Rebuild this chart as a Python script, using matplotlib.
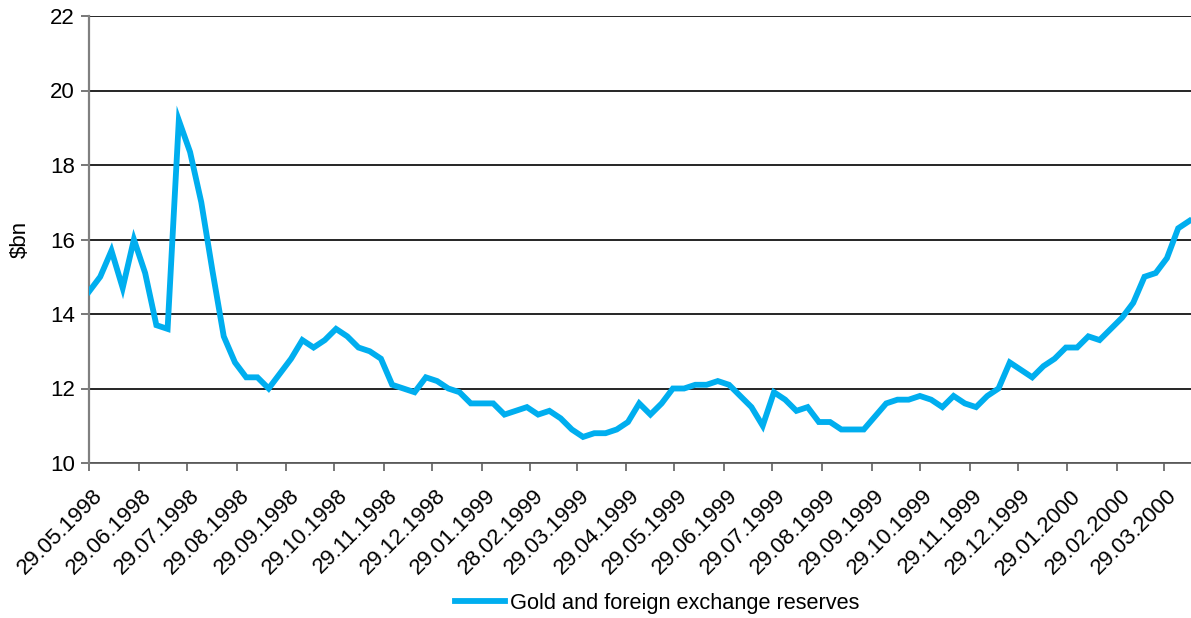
import matplotlib
matplotlib.use("Agg")
import matplotlib.pyplot as plt
import matplotlib.transforms as mtransforms
import pandas as pd

plt.rcParams['font.family'] = ['Liberation Sans', 'DejaVu Sans']

start_date = "1998-05-29"
reserves = [
    14.6, 15.0, 15.7, 14.7, 16.0, 15.1, 13.7, 13.6, 19.2, 18.35,
    17.0, 15.15, 13.4, 12.7, 12.3, 12.3, 12.0, 12.4, 12.8, 13.3,
    13.1, 13.3, 13.6, 13.4, 13.1, 13.0, 12.8, 12.1, 12.0, 11.9,
    12.3, 12.2, 12.0, 11.9, 11.6, 11.6, 11.6, 11.3, 11.4, 11.5,
    11.3, 11.4, 11.2, 10.9, 10.7, 10.8, 10.8, 10.9, 11.1, 11.6,
    11.3, 11.6, 12.0, 12.0, 12.1, 12.1, 12.2, 12.1, 11.8, 11.5,
    11.0, 11.9, 11.7, 11.4, 11.5, 11.1, 11.1, 10.9, 10.9, 10.9,
    11.25, 11.6, 11.7, 11.7, 11.8, 11.7, 11.5, 11.8, 11.6, 11.5,
    11.8, 12.0, 12.7, 12.5, 12.3, 12.6, 12.8, 13.1, 13.1, 13.4,
    13.3, 13.6, 13.9, 14.3, 15.0, 15.1, 15.5, 16.3, 16.5,
]
tick_labels = [
    "29.05.1998", "29.06.1998", "29.07.1998", "29.08.1998", "29.09.1998",
    "29.10.1998", "29.11.1998", "29.12.1998", "29.01.1999", "28.02.1999",
    "29.03.1999", "29.04.1999", "29.05.1999", "29.06.1999", "29.07.1999",
    "29.08.1999", "29.09.1999", "29.10.1999", "29.11.1999", "29.12.1999",
    "29.01.2000", "29.02.2000", "29.03.2000",
]
y_ticks = [10, 12, 14, 16, 18, 20, 22]
series_name = "Gold and foreign exchange reserves"
y_label = r"\$bn"

dates = pd.date_range(start_date, periods=len(reserves), freq="7D")
tick_dates = pd.to_datetime(tick_labels, format="%d.%m.%Y")

color = "#00AEEF"
fig = plt.figure(figsize=(11.91, 6.18), dpi=100)
ax = fig.add_axes([89/1191, 1-463/618, 1-89/1191, (463-16)/618])

ax.plot(dates, reserves, color=color, lw=4.2, solid_joinstyle="miter",
        label=series_name, zorder=3)

ax.set_ylim(10, 22)
ax.set_yticks(y_ticks)
ax.set_yticklabels([str(v) for v in y_ticks], fontsize=16)
ax.set_xlim(dates[0], dates[-1] + pd.Timedelta(days=1))
ax.set_xticks(tick_dates)
ax.set_xticklabels([])

# rotated date labels, anchored at their right end near each tick
lbl_tr = ax.get_xaxis_transform() + mtransforms.ScaledTranslation(
    10/100, -30/100, fig.dpi_scale_trans)
for d, t in zip(tick_dates, tick_labels):
    ax.text(d, 0, t, transform=lbl_tr, rotation=45, ha="right", va="center",
            rotation_mode="anchor", fontsize=16, clip_on=False)

ax.grid(axis="y", color="black", lw=1.2, zorder=1)
for s in ["top", "right"]:
    ax.spines[s].set_visible(False)
ax.spines["left"].set_color("#808080")
ax.spines["left"].set_linewidth(1.6)
ax.spines["bottom"].set_color("#606060")
ax.spines["bottom"].set_linewidth(1.3)
ax.spines["bottom"].set_zorder(2)
ax.tick_params(axis="both", direction="out", length=6, width=1.2,
               color="#606060", pad=3)
ax.tick_params(axis="y", pad=4)

ax.set_ylabel(y_label, fontsize=16)
ax.yaxis.set_label_coords(-0.053, 0.5)

leg = fig.legend(loc="center", bbox_to_anchor=(657/1191, 1-603/618),
                 frameon=False, fontsize=15.7, handlelength=2.3,
                 handletextpad=0.25)

fig.savefig("out.png", dpi=100)
